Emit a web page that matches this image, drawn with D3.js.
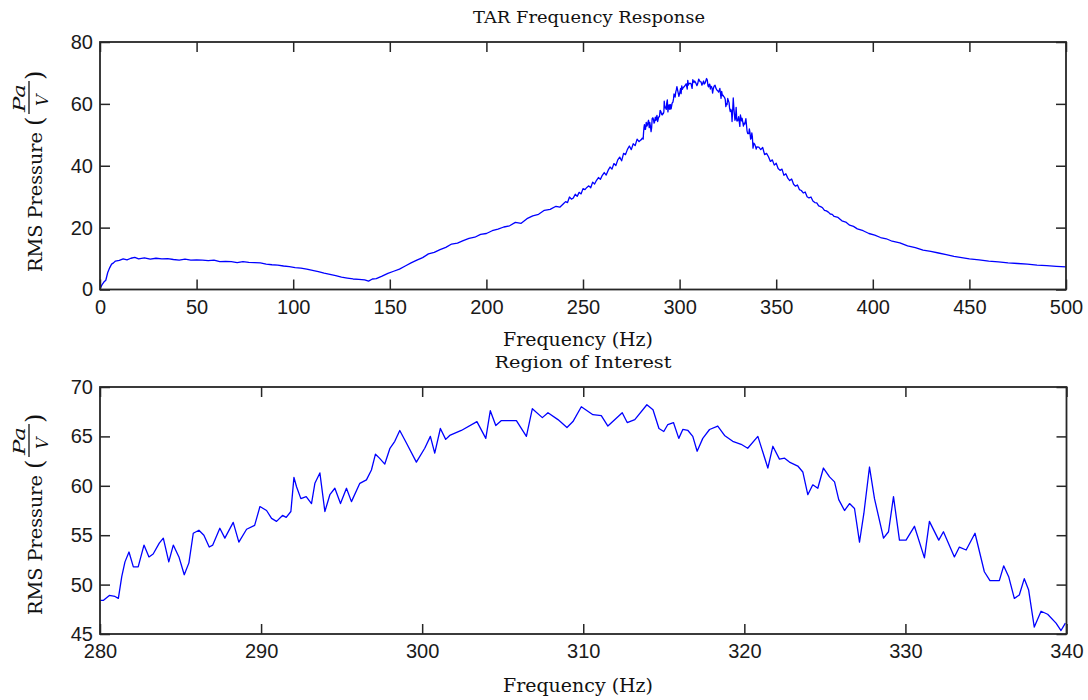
<!DOCTYPE html>
<html>
<head>
<meta charset="utf-8">
<script src="https://cdn.jsdelivr.net/npm/d3@7"></script>
<style>
  html, body { margin: 0; padding: 0; background: #fff; }
  svg { display: block; }
</style>
</head>
<body>
<svg id="chart" width="1088" height="700"></svg>
<script>
// ---------- DATA ----------
// Full response, low band (0-280 Hz)
const lowFreq = [0,1,2,3,4,5,6,7,8,10,12,14,16,18,20,23,26,29,32,35,38,41,44,47,50,53,56,59,62,65,68,71,74,77,80,83,86,89,92,95,98,101,104,107,110,113,116,119,122,125,128,131,134,137,139,141,143,146,149,152,155,158,161,164,167,170,173,176,179,182,185,188,191,194,197,200,203,206,209,212,215,218,221,224,227,230,233,236,238,240,241,242,243,244,245,246,247,248,249,250,251,252,253,254,255,256,257,258,259,260,261,262,263,264,265,266,267,268,269,270,271,272,273,274,275,276,277,278,279];
const lowVal  = [0.2,1.5,2.4,3.0,5.5,7.0,8.2,8.6,9.2,9.4,9.9,9.6,10.1,10.4,9.9,10.2,9.8,10.1,9.9,10.0,9.7,9.5,9.8,9.5,9.6,9.5,9.3,9.5,9.0,9.1,9.0,8.7,9.0,8.8,8.7,8.6,8.2,8.0,7.9,7.6,7.4,7.1,6.9,6.6,6.2,5.8,5.3,4.9,4.5,4.0,3.7,3.4,3.3,3.1,2.7,3.4,3.5,4.3,5.2,5.9,6.6,7.6,8.6,9.5,10.3,11.5,12.0,12.9,13.6,14.7,15.0,15.8,16.5,16.9,17.8,18.1,19.0,19.5,20.2,20.6,21.7,21.4,22.9,23.8,24.3,25.6,25.9,26.9,26.6,27.8,28.4,28.1,29.9,29.2,29.6,30.8,30.1,31.4,30.9,32.6,32.3,33.0,33.5,32.9,34.7,34.1,35.3,36.2,35.6,36.9,37.8,37.0,38.5,39.6,38.9,40.7,40.1,41.9,42.8,41.6,44.0,43.6,45.3,46.4,45.2,47.1,46.5,48.6,47.8];

// Region of interest (280-340 Hz)
const roiFreq = [280.0,280.2,280.58,280.93,281.14,281.35,281.55,281.8,282.07,282.37,282.73,283.04,283.3,283.68,283.93,284.27,284.55,284.9,285.23,285.52,285.79,286.14,286.45,286.78,287.0,287.44,287.75,288.27,288.62,289.1,289.6,289.93,290.34,290.65,290.96,291.33,291.56,291.85,292.04,292.2,292.47,292.8,293.13,293.34,293.65,293.96,294.27,294.58,294.93,295.3,295.61,296.13,296.54,296.85,297.1,297.35,297.68,298.0,298.3,298.61,299.03,299.64,300.16,300.51,300.78,301.13,301.46,301.71,302.43,303.4,303.95,304.23,304.57,304.92,305.85,306.47,306.84,307.46,307.81,308.43,308.99,309.36,309.88,310.6,311.12,311.53,312.42,312.73,313.2,313.95,314.33,314.7,315.0,315.25,315.6,315.93,316.18,316.5,316.8,317.07,317.42,317.84,318.35,318.77,319.28,319.8,320.21,320.84,321.46,321.77,322.18,322.5,322.8,323.32,323.63,323.94,324.25,324.56,324.91,325.29,325.6,325.86,326.22,326.53,326.84,327.15,327.42,327.77,328.08,328.64,328.95,329.26,329.63,330.04,330.56,331.18,331.49,332.07,332.36,333.04,333.35,333.77,334.32,334.9,335.25,335.83,336.1,336.41,336.76,337.07,337.38,337.65,338.0,338.42,338.83,339.35,339.66,339.93];
const roiVal  = [48.4,48.4,48.9,48.8,48.6,50.8,52.3,53.3,51.8,51.8,54.0,52.8,53.1,54.2,54.7,52.3,54.0,52.8,51.0,52.2,55.2,55.5,55.0,53.8,54.0,55.7,54.7,56.3,54.3,55.6,56.0,57.9,57.5,56.7,56.4,57.0,56.8,57.4,60.85,59.9,58.7,58.9,58.2,60.25,61.3,57.4,59.1,59.75,58.2,59.75,58.4,60.25,60.6,61.6,63.2,62.8,62.2,63.8,64.5,65.6,64.3,62.4,63.8,65.0,63.3,65.8,64.7,65.1,65.6,66.5,64.8,67.6,66.1,66.6,66.6,65.0,67.8,66.9,67.4,66.7,65.9,66.5,68.0,67.2,67.1,66.05,67.4,66.4,66.7,68.2,67.7,65.8,65.5,66.2,66.4,64.8,65.7,65.6,65.0,63.5,64.8,65.7,66.05,65.1,64.5,64.2,63.8,65.0,61.8,64.0,62.7,62.8,62.4,62.0,61.4,59.1,60.1,59.75,61.8,60.9,60.4,58.6,57.5,58.2,57.7,54.3,57.2,61.9,58.7,54.7,55.35,58.9,54.5,54.5,55.9,52.7,56.4,54.5,55.35,52.8,53.8,53.5,55.2,51.3,50.4,50.4,51.9,50.8,48.6,48.95,50.6,49.45,45.7,47.3,47.0,46.1,45.35,46.1];

// Full response, high band (340-500 Hz)
const highFreq = [341,342,343,344,345,346,347,348,349,350,351,352,353,354,355,356,357,358,359,360,361,362,363,364,365,366,367,368,369,370,371,372,373,374,375,376,377,378,379,380,382,384,386,388,390,392,395,398,401,404,407,410,414,418,422,426,430,434,438,442,446,450,455,460,465,470,475,480,485,490,495,500];
const highVal  = [46.0,45.2,45.9,43.6,44.0,42.9,41.4,41.9,40.2,40.8,39.1,38.5,38.9,36.9,37.4,36.0,35.2,35.7,34.0,33.4,33.8,32.3,32.0,31.2,31.5,30.0,29.6,29.9,28.6,28.1,28.0,27.0,26.8,26.4,25.6,25.4,25.0,24.4,24.3,23.6,23.3,22.2,21.8,20.8,20.4,19.6,19.0,18.1,17.6,16.8,16.4,15.6,15.1,14.1,13.5,12.7,12.3,11.8,11.3,10.7,10.3,9.9,9.6,9.2,8.9,8.6,8.4,8.2,7.9,7.7,7.5,7.3];

// Tick labels
const topXTicks = [0,50,100,150,200,250,300,350,400,450,500];
const topYTicks = [0,20,40,60,80];
const botXTicks = [280,290,300,310,320,330,340];
const botYTicks = [45,50,55,60,65,70];

// ---------- DRAWING ----------
const svg = d3.select("#chart");
const axisColor = "#262626";
const lineColor = "#0000ff";
const labelFont = "'DejaVu Serif', serif";
const tickFont = "'Liberation Sans', Arial, sans-serif";

function zip(fs, vs) { return fs.map((f, i) => ({f: f, v: vs[i]})); }

const topData = zip(lowFreq, lowVal).concat(zip(roiFreq, roiVal), zip(highFreq, highVal));
const roiData = zip(roiFreq, roiVal);

function panel(cfg) {
  const x = d3.scaleLinear().domain(cfg.xDomain).range([cfg.left, cfg.right]);
  const y = d3.scaleLinear().domain(cfg.yDomain).range([cfg.bottom, cfg.top]);
  const g = svg.append("g");

  const clipId = "clip" + cfg.id;
  svg.append("clipPath").attr("id", clipId).append("rect")
    .attr("x", cfg.left).attr("y", cfg.top)
    .attr("width", cfg.right - cfg.left).attr("height", cfg.bottom - cfg.top + 1);
  g.append("path")
    .datum(cfg.data)
    .attr("clip-path", `url(#${clipId})`)
    .attr("fill", "none")
    .attr("stroke", lineColor)
    .attr("stroke-width", 1.3)
    .attr("stroke-linejoin", "round")
    .attr("d", d3.line().x(d => x(d.f)).y(d => y(d.v)));

  const styleAxis = sel => {
    sel.select(".domain").remove();
    sel.selectAll(".tick line").attr("stroke", axisColor).attr("stroke-width", 1.5);
    sel.selectAll(".tick text").attr("fill", "#1a1a1a")
      .style("font-family", tickFont).style("font-size", "20px");
  };

  g.append("g").attr("transform", `translate(0,${cfg.bottom})`)
    .call(d3.axisBottom(x).tickValues(cfg.xTicks).tickSizeInner(-10).tickSizeOuter(0).tickPadding(10))
    .call(styleAxis);
  g.append("g").attr("transform", `translate(0,${cfg.top})`)
    .call(d3.axisTop(x).tickValues(cfg.xTicks).tickSizeInner(-10).tickSizeOuter(0).tickFormat(""))
    .call(styleAxis);
  g.append("g").attr("transform", `translate(${cfg.left},0)`)
    .call(d3.axisLeft(y).tickValues(cfg.yTicks).tickSizeInner(-10).tickSizeOuter(0).tickPadding(7))
    .call(styleAxis);
  g.append("g").attr("transform", `translate(${cfg.right},0)`)
    .call(d3.axisRight(y).tickValues(cfg.yTicks).tickSizeInner(-10).tickSizeOuter(0).tickFormat(""))
    .call(styleAxis);

  g.append("rect")
    .attr("x", cfg.left).attr("y", cfg.top)
    .attr("width", cfg.right - cfg.left).attr("height", cfg.bottom - cfg.top)
    .attr("fill", "none").attr("stroke", axisColor).attr("stroke-width", 1.8);

  g.append("text")
    .attr("x", cfg.titleX).attr("y", cfg.titleY)
    .attr("text-anchor", "middle")
    .attr("textLength", cfg.titleLen).attr("lengthAdjust", "spacingAndGlyphs")
    .style("font-family", labelFont).style("font-size", "17px").attr("fill", "#111")
    .text(cfg.title);

  g.append("text")
    .attr("x", 578).attr("y", cfg.xLabelY)
    .attr("text-anchor", "middle")
    .attr("textLength", 150).attr("lengthAdjust", "spacingAndGlyphs")
    .style("font-family", labelFont).style("font-size", "18px").attr("fill", "#111")
    .text("Frequency (Hz)");

  const yl = g.append("g").attr("transform", `translate(35,${cfg.yLabelStart}) rotate(-90)`)
    .style("font-family", labelFont).attr("fill", "#111");
  yl.append("text").attr("x", 0).attr("y", 0).attr("dominant-baseline", "central")
    .attr("textLength", 140).attr("lengthAdjust", "spacingAndGlyphs")
    .style("font-size", "18px").text("RMS Pressure");
  yl.append("text").attr("x", 146).attr("y", 0).attr("dominant-baseline", "central")
    .style("font-size", "24px").style("font-weight", "200").text("(");
  yl.append("text").attr("x", 160).attr("y", -16).attr("dominant-baseline", "central")
    .attr("textLength", 28).attr("lengthAdjust", "spacingAndGlyphs")
    .style("font-size", "16px").style("font-style", "italic").text("Pa");
  yl.append("line").attr("x1", 158).attr("x2", 191).attr("y1", -6).attr("y2", -6)
    .attr("stroke", "#111").attr("stroke-width", 1.3);
  yl.append("text").attr("x", 166).attr("y", 7).attr("dominant-baseline", "central")
    .style("font-size", "16px").style("font-style", "italic").text("V");
  yl.append("text").attr("x", 192).attr("y", 0).attr("dominant-baseline", "central")
    .style("font-size", "24px").style("font-weight", "200").text(")");
}

panel({
  id: "top", data: topData,
  xDomain: [0, 500], yDomain: [0, 80],
  left: 100, right: 1066, top: 42, bottom: 289.5,
  xTicks: topXTicks, yTicks: topYTicks,
  title: "TAR Frequency Response", titleX: 589, titleY: 23, titleLen: 232,
  xLabelY: 346, yLabelStart: 272
});

panel({
  id: "bot", data: roiData,
  xDomain: [280, 340], yDomain: [45, 70],
  left: 100, right: 1066.5, top: 387, bottom: 634,
  xTicks: botXTicks, yTicks: botYTicks,
  title: "Region of Interest", titleX: 583, titleY: 368, titleLen: 177,
  xLabelY: 692, yLabelStart: 615
});
</script>
</body>
</html>
